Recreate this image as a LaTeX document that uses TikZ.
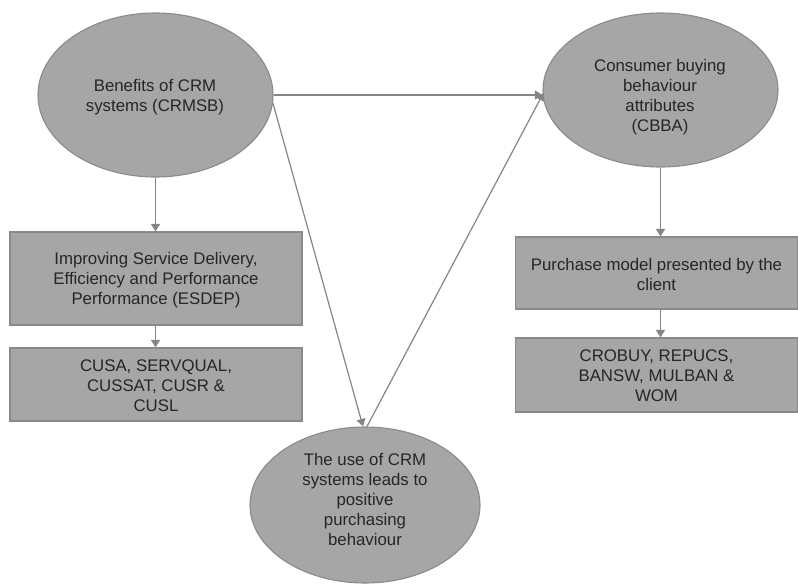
\documentclass[tikz,border=0pt]{standalone}
\usepackage{fontspec}
\setmainfont{Liberation Sans}
\usetikzlibrary{shapes.geometric,arrows.meta}
\definecolor{boxfill}{HTML}{A6A6A6}
\definecolor{boxline}{HTML}{8A8A8A}
\definecolor{arrowc}{HTML}{858585}
\definecolor{txt}{HTML}{262626}
\tikzset{
  oval/.style={ellipse, draw=boxline, fill=boxfill, line width=1.1pt, inner sep=0pt},
  rbox/.style={rectangle, draw=boxline, fill=boxfill, line width=1.1pt, inner sep=0pt},
  lbl/.style={align=center, text=txt, font=\fontsize{16.8}{20}\selectfont, inner sep=0pt},
  conn/.style={draw=arrowc, line width=1.2pt, -{Triangle[width=9pt,length=7.5pt]}}
}
\begin{document}
\begin{tikzpicture}[x=1pt,y=-1pt]
\useasboundingbox (0,0) rectangle (798,584);
% ellipses
\node[oval, minimum width=235pt, minimum height=164pt] (e1) at (155.5,95) {};
\node[lbl] (e1t) at (155,97) {Benefits of CRM\\systems (CRMSB)};
\node[oval, minimum width=235pt, minimum height=154pt] (e2) at (660.5,90) {};
\node[lbl] (e2t) at (660,97) {Consumer buying\\behaviour\\attributes\\(CBBA)};
\node[oval, minimum width=230pt, minimum height=156pt] (e3) at (365,505) {};
\node[lbl] (e3t) at (365,499) {The use of CRM\\systems leads to\\positive\\purchasing\\behaviour};
% boxes
\node[rbox, minimum width=292pt, minimum height=93pt] (r1) at (156,278.5) {};
\node[lbl] (r1t) at (156,280) {Improving Service Delivery,\\Efficiency and Performance\\Performance (ESDEP)};
\node[rbox, minimum width=292pt, minimum height=73pt] (r2) at (156,384.5) {};
\node[lbl] (r2t) at (156,386) {CUSA, SERVQUAL,\\CUSSAT, CUSR \&\\CUSL};
\node[rbox, minimum width=282pt, minimum height=72pt] (r3) at (656.5,273) {};
\node[lbl] (r3t) at (656.5,274) {Purchase model presented by the\\client};
\node[rbox, minimum width=282pt, minimum height=74pt] (r4) at (656.5,375) {};
\node[lbl] (r4t) at (656.5,376) {CROBUY, REPUCS,\\BANSW, MULBAN \&\\WOM};
% connectors
\draw[conn] (e1.south) -- (e1.south |- r1.north);
\draw[conn] (e1.south |- r1.south) -- (e1.south |- r2.north);
\draw[conn] (e2.south) -- (e2.south |- r3.north);
\draw[conn] (e2.south |- r3.south) -- (e2.south |- r4.north);
\draw[conn] (e1.east) -- (e2.west |- e1.east);
\draw[conn] (e1.-4) -- ([xshift=-2pt]e3.north);
\draw[conn] ([xshift=2pt]e3.north) -- ([xshift=1pt,yshift=2pt]e2.west |- e1.east);
\end{tikzpicture}
\end{document}
